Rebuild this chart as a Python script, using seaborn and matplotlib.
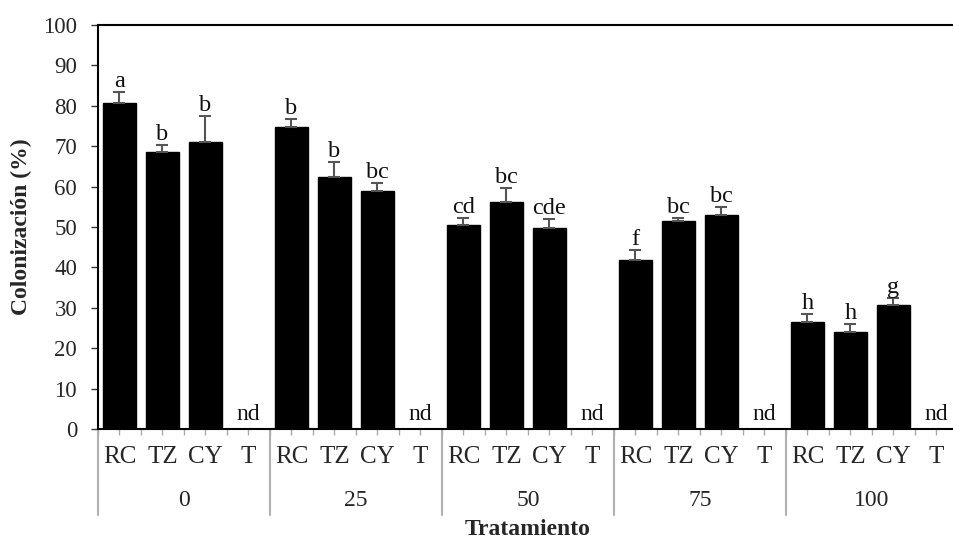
import pandas as pd
import matplotlib.pyplot as plt
import matplotlib.transforms as mtransforms
import seaborn as sns

# data
dosis = ["0", "25", "50", "75", "100"]
cepas = ["RC", "TZ", "CY", "T"]
colonizacion = [80.8, 68.5, 71.0, 0.0,
                74.8, 62.4, 58.9, 0.0,
                50.4, 56.3, 49.8, 0.0,
                41.8, 51.5, 53.0, 0.0,
                26.6, 24.1, 30.8, 0.0]
error = [2.5, 1.8, 6.5, 0.0,
         1.9, 3.6, 2.0, 0.0,
         1.8, 3.4, 2.1, 0.0,
         2.5, 0.7, 2.0, 0.0,
         1.9, 1.8, 1.7, 0.0]
letras = ["a", "b", "b", "nd",
          "b", "b", "bc", "nd",
          "cd", "bc", "cde", "nd",
          "f", "bc", "bc", "nd",
          "h", "h", "g", "nd"]

df = pd.DataFrame({
    "dosis": [d for d in dosis for _ in cepas],
    "cepa": cepas * len(dosis),
    "col": colonizacion,
    "err": error,
    "letra": letras,
})
df["clave"] = df["dosis"] + "-" + df["cepa"]

sns.set_style("white")
plt.rcParams["font.family"] = ["Liberation Serif", "DejaVu Serif"]

fig = plt.figure(figsize=(9.54, 5.4), dpi=100)
ax = fig.add_axes([98 / 954, 111 / 540, 860 / 954, 404 / 540])

sns.barplot(data=df, x="clave", y="col", color="black", width=0.76,
            errorbar=None, saturation=1, edgecolor="black", ax=ax)

# upper error bars and significance letters
for patch, (_, row) in zip(ax.patches, df.iterrows()):
    xc = patch.get_x() + patch.get_width() / 2
    top = patch.get_height()
    if row["letra"] == "nd":
        ax.annotate("nd", (xc, 0), xytext=(0, 3), textcoords="offset points",
                    ha="center", va="bottom", fontsize=17, color="#111111")
        continue
    ax.errorbar(xc, top, yerr=[[0], [row["err"]]], fmt="none",
                ecolor="#555555", elinewidth=1.5, capsize=4, capthick=1.5)
    ax.annotate(row["letra"], (xc, top + row["err"]), xytext=(0, 0),
                textcoords="offset points", ha="center", va="bottom",
                fontsize=17.5, color="#111111")

ax.set_ylim(0, 100)
ax.set_xlim(-0.5, len(df) - 0.5)
ax.set_yticks(range(0, 101, 10))
ax.tick_params(axis="y", labelsize=16.5, length=5, width=1, color="#333333",
               direction="out", left=True, pad=10)
ax.set_xticks(range(len(df)))
ax.set_xticklabels(df["cepa"], fontsize=18)
ax.set_xticks([i - 0.5 for i in range(len(df) + 1)], minor=True)
ax.tick_params(axis="x", which="both", length=4, width=1, color="#aaaaaa",
               direction="out", bottom=True, pad=8)

for side in ["top", "left", "bottom"]:
    ax.spines[side].set_color("black")
    ax.spines[side].set_linewidth(1.5)
ax.spines["right"].set_visible(False)

# group separators and group labels
trans = mtransforms.blended_transform_factory(ax.transData, ax.transAxes)
for g in range(len(dosis) + 1):
    ax.plot([g * 4 - 0.5, g * 4 - 0.5], [0, -0.213], transform=trans,
            color="#b0b0b0", lw=1.5, clip_on=False)
for g, d in enumerate(dosis):
    ax.text(g * 4 + 1.5, -0.176, d, transform=trans, ha="center", va="center",
            fontsize=17)

ax.set_xlabel("Tratamiento", fontsize=17, fontweight="bold", labelpad=37)
ax.set_ylabel("Colonización (%)", fontsize=17, fontweight="bold", labelpad=8)

fig.savefig("out.png", dpi=100)
